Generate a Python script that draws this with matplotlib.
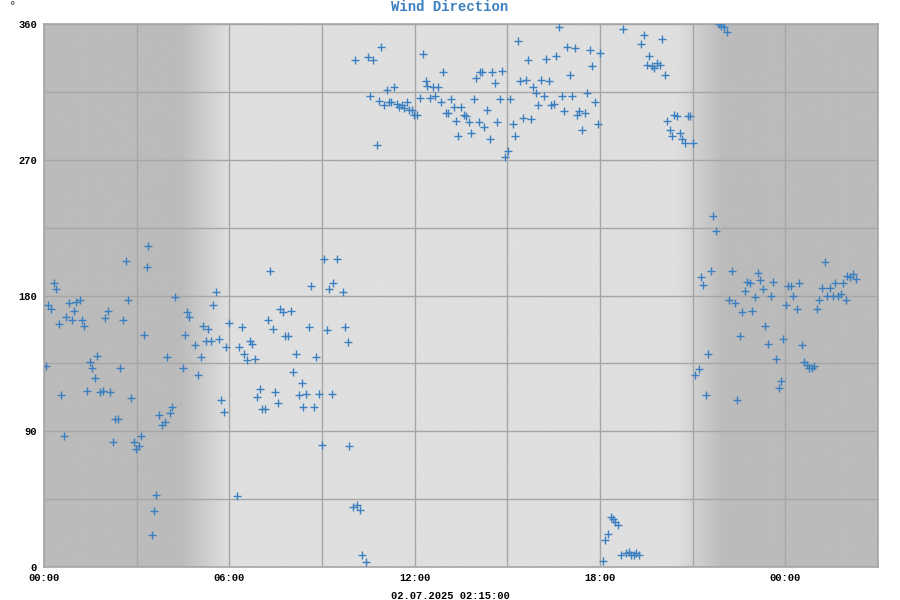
import numpy as np
import matplotlib
matplotlib.use('Agg')
import matplotlib.pyplot as plt
from matplotlib.colors import LinearSegmentedColormap
from matplotlib.ticker import FuncFormatter, MultipleLocator

# hours since 00:00 of the first day, wind direction in degrees
hours = [
    0.05, 0.13, 0.23, 0.31, 0.39, 0.49, 0.56, 0.64, 0.72, 0.81, 0.90, 0.97, 1.05, 1.16, 1.24, 1.31,
    1.39, 1.48, 1.57, 1.64, 1.73, 1.82, 1.90, 1.99, 2.07, 2.15, 2.23, 2.30, 2.41, 2.47, 2.56, 2.65,
    2.73, 2.81, 2.90, 2.98, 3.07, 3.15, 3.23, 3.32, 3.38, 3.49, 3.57, 3.64, 3.73, 3.83, 3.91, 3.97,
    4.07, 4.15, 4.24, 4.49, 4.55, 4.64, 4.70, 4.90, 4.99, 5.07, 5.15, 5.23, 5.32, 5.41, 5.48, 5.56,
    5.65, 5.74, 5.82, 5.90, 5.99, 6.24, 6.32, 6.41, 6.49, 6.57, 6.66, 6.75, 6.83, 6.91, 6.98, 7.05,
    7.15, 7.24, 7.31, 7.42, 7.48, 7.58, 7.64, 7.75, 7.79, 7.89, 7.99, 8.07, 8.15, 8.24, 8.34, 8.40,
    8.49, 8.57, 8.66, 8.75, 8.82, 8.91, 8.99, 9.07, 9.16, 9.24, 9.33, 9.36, 9.50, 9.67, 9.73, 9.83,
    9.89, 10.00, 10.06, 10.12, 10.22, 10.31, 10.41, 10.48, 10.54, 10.64, 10.77, 10.83, 10.90, 11.00,
    11.10, 11.16, 11.25, 11.32, 11.42, 11.48, 11.58, 11.65, 11.74, 11.81, 11.90, 11.97, 12.07, 12.16,
    12.26, 12.36, 12.39, 12.49, 12.59, 12.65, 12.75, 12.84, 12.91, 13.00, 13.07, 13.17, 13.27, 13.33,
    13.40, 13.49, 13.59, 13.65, 13.75, 13.82, 13.91, 13.98, 14.07, 14.11, 14.17, 14.24, 14.34, 14.43,
    14.50, 14.60, 14.66, 14.76, 14.82, 14.92, 15.02, 15.08, 15.18, 15.24, 15.34, 15.41, 15.50, 15.60,
    15.67, 15.76, 15.83, 15.93, 16.00, 16.09, 16.19, 16.25, 16.35, 16.41, 16.51, 16.57, 16.67, 16.77,
    16.83, 16.93, 17.03, 17.09, 17.19, 17.26, 17.32, 17.42, 17.52, 17.58, 17.68, 17.74, 17.84, 17.94,
    18.00, 18.10, 18.17, 18.26, 18.36, 18.42, 18.50, 18.58, 18.68, 18.75, 18.85, 18.94, 19.00, 19.10,
    19.17, 19.27, 19.33, 19.43, 19.53, 19.59, 19.69, 19.75, 19.85, 19.95, 20.00, 20.11, 20.17, 20.27,
    20.34, 20.40, 20.50, 20.60, 20.66, 20.76, 20.86, 20.92, 21.02, 21.09, 21.19, 21.27, 21.35, 21.44,
    21.51, 21.60, 21.67, 21.76, 21.85, 21.92, 22.00, 22.10, 22.19, 22.26, 22.36, 22.43, 22.52, 22.60,
    22.68, 22.77, 22.87, 22.93, 23.02, 23.10, 23.18, 23.27, 23.34, 23.44, 23.52, 23.60, 23.69, 23.78,
    23.85, 23.94, 24.02, 24.09, 24.18, 24.26, 24.37, 24.44, 24.53, 24.60, 24.69, 24.77, 24.85, 24.94,
    25.03, 25.10, 25.20, 25.29, 25.36, 25.44, 25.53, 25.60, 25.70, 25.79, 25.87, 25.95, 26.00, 26.10,
    26.20, 26.28,
]
direction = [
    133, 174, 171, 188, 184, 161, 114, 87, 166, 175, 164, 170, 176, 177, 164, 160,
    117, 136, 132, 125, 140, 116, 117, 165, 170, 116, 83, 98, 98, 132, 164, 203,
    177, 112, 83, 78, 80, 87, 154, 199, 213, 21, 37, 48, 101, 94, 96, 139,
    102, 106, 179, 132, 154, 169, 166, 147, 127, 139, 160, 150, 158, 150, 174, 182,
    151, 111, 103, 146, 162, 47, 146, 159, 141, 137, 150, 148, 138, 113, 118, 105,
    105, 164, 196, 158, 116, 109, 171, 169, 153, 153, 170, 129, 141, 114, 122, 106,
    115, 159, 186, 106, 139, 115, 81, 204, 157, 184, 115, 188, 204, 182, 159, 149,
    80, 40, 336, 41, 38, 8, 3, 338, 312, 336, 280, 309, 345, 306,
    316, 308, 308, 318, 307, 305, 306, 304, 308, 303, 303, 300, 300, 311,
    340, 322, 319, 311, 318, 312, 318, 308, 328, 301, 301, 310, 305, 296,
    286, 305, 300, 299, 295, 288, 310, 324, 295, 328, 328, 292, 303, 284,
    328, 321, 295, 310, 329, 272, 276, 310, 294, 286, 349, 322, 298, 323,
    336, 297, 318, 314, 306, 323, 312, 337, 322, 306, 307, 339, 358, 312,
    302, 345, 326, 312, 344, 300, 302, 290, 301, 314, 343, 332, 308, 294,
    341, 4, 18, 22, 33, 32, 30, 28, 8, 357, 9, 10, 8, 8,
    9, 8, 347, 353, 333, 339, 332, 331, 334, 333, 350, 326, 296, 290,
    286, 300, 299, 288, 284, 281, 299, 299, 281, 127, 131, 192, 187, 114,
    141, 196, 233, 223, 360, 359, 358, 355, 177, 196, 175, 111, 153, 169,
    183, 189, 188, 170, 179, 195, 190, 184, 160, 148, 180, 189, 138, 119,
    123, 151, 174, 186, 186, 180, 171, 188, 147, 136, 134, 132, 132, 133,
    171, 177, 185, 202, 180, 185, 180, 188, 180, 181, 188, 177, 193, 192,
    194, 191,
]

y_labels = [0, 90, 180, 270, 360]
x_ticks = [0, 6, 12, 18, 24]
timestamp = '02.07.2025 02:15:00'

# dawn / dusk shading (hours)
dawn = (4.4, 6.0)
dusk = (20.5, 22.0)
x_max = 27

night_col = '#bbbbbb'
day_col = '#dfdfdf'
blue = '#3b7fc0'
font = 'Liberation Mono'

fig = plt.figure(figsize=(9, 6), dpi=100)
ax = fig.add_axes([44 / 900, 33 / 600, 834 / 900, 543 / 600])

xs = np.linspace(0, x_max, 1000)
shade = np.interp(xs, [0, dawn[0], dawn[1], dusk[0], dusk[1], x_max], [0, 0, 1, 1, 0, 0])
cmap = LinearSegmentedColormap.from_list('daynight', [night_col, day_col])
ax.imshow(shade[np.newaxis, :], extent=[0, x_max, 0, 360], aspect='auto', cmap=cmap,
          vmin=0, vmax=1, zorder=0, interpolation='bilinear')

ax.plot(hours, direction, linestyle='none', marker='+', markersize=5.2, markeredgewidth=1.0,
        color=blue, zorder=3)

ax.set_xlim(0, x_max)
ax.set_ylim(0, 360)
ax.set_xticks(x_ticks)
ax.xaxis.set_minor_locator(MultipleLocator(3))
ax.set_yticks(y_labels)
ax.yaxis.set_minor_locator(MultipleLocator(45))
ax.xaxis.set_major_formatter(FuncFormatter(lambda v, p: f'{int(v) % 24:02d}:00'))
ax.grid(which='both', color='#a6a6a6', linewidth=1, zorder=1)
ax.set_axisbelow('line')
ax.tick_params(which='both', length=0)
ax.tick_params(axis='x', pad=4)
ax.tick_params(axis='y', pad=5)
for lab in ax.get_xticklabels() + ax.get_yticklabels():
    lab.set_fontfamily(font)
    lab.set_fontweight('bold')
    lab.set_fontsize(7.5)
for s in ax.spines.values():
    s.set_color('#a6a6a6')
    s.set_linewidth(1.2)

fig.text(0.5, 1 - 7 / 600, 'Wind Direction', ha='center', va='center', color=blue,
         fontfamily=font, fontweight='bold', fontsize=10)
fig.text(13 / 900, 1 - 6 / 600, '°', ha='center', va='center', fontsize=8, color='#333333')
fig.text(0.5, 1 - 596 / 600, timestamp, ha='center', va='center',
         fontfamily=font, fontweight='bold', fontsize=7.5)

fig.savefig('out.png', dpi=100)
